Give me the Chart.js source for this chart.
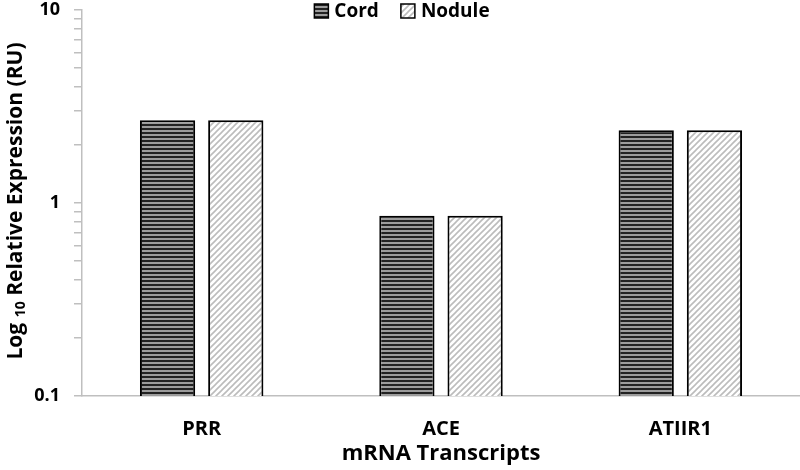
<!DOCTYPE html>
<html lang="en">
<head>
<meta charset="UTF-8">
<title>mRNA Transcripts</title>
<script src="https://cdn.jsdelivr.net/npm/chart.js"></script>
<style>
    html, body { margin: 0; padding: 0; background: #fff; }
    #wrap { width: 800px; height: 470px; }
</style>
</head>
<body>
<div id="wrap"><canvas id="chart"></canvas></div>
<script>
const transcripts = ['PRR', 'ACE', 'ATIIR1'];
const cordValues = [2.68, 0.86, 2.38];
const noduleValues = [2.68, 0.86, 2.38];
const yTickValues = [0.1, 0.2, 0.3, 0.4, 0.5, 0.6, 0.7, 0.8, 0.9,
                     1, 2, 3, 4, 5, 6, 7, 8, 9, 10];
const yTickLabels = ['0.1', '1', '10'];

const FONT = '"Open Sans", Lato, sans-serif';
const AXIS_GREY = '#bfbfbf';

// horizontal stripes for Cord
function stripePattern() {
    const c = document.createElement('canvas');
    c.width = 4; c.height = 4;
    const g = c.getContext('2d');
    g.fillStyle = '#9c9c9c';
    g.fillRect(0, 0, 4, 4);
    g.fillStyle = '#222';
    g.fillRect(0, 0, 4, 2);
    return g.createPattern(c, 'repeat');
}

// light diagonal hatch for Nodule
function hatchPattern() {
    const s = 6;
    const c = document.createElement('canvas');
    c.width = s; c.height = s;
    const g = c.getContext('2d');
    g.fillStyle = '#ffffff';
    g.fillRect(0, 0, s, s);
    g.strokeStyle = '#bcbcbc';
    g.lineWidth = 1.6;
    g.beginPath();
    g.moveTo(0, s); g.lineTo(s, 0);
    g.moveTo(-1, 1); g.lineTo(1, -1);
    g.moveTo(s - 1, s + 1); g.lineTo(s + 1, s - 1);
    g.stroke();
    return g.createPattern(c, 'repeat');
}

// y title with subscript 10
const yTitlePlugin = {
    id: 'yTitle',
    afterDraw(chart) {
        const ctx = chart.ctx;
        const parts = [
            {t: 'Log ', f: 'bold 21px ' + FONT, dy: 0},
            {t: '10', f: 'bold 14px ' + FONT, dy: 5},
            {t: ' Relative Expression (RU)', f: 'bold 21px ' + FONT, dy: 0}
        ];
        ctx.save();
        let total = 0;
        parts.forEach(p => { ctx.font = p.f; p.w = ctx.measureText(p.t).width; total += p.w; });
        ctx.translate(16, 201);
        ctx.rotate(-Math.PI / 2);
        ctx.fillStyle = '#000';
        ctx.textBaseline = 'middle';
        ctx.textAlign = 'left';
        let x = -total / 2;
        parts.forEach(p => {
            ctx.font = p.f;
            ctx.fillText(p.t, x, p.dy);
            x += p.w;
        });
        ctx.restore();
    }
};

// legend drawn over the top of the plot
const topLegendPlugin = {
    id: 'topLegend',
    afterDraw(chart) {
        const ctx = chart.ctx;
        const box = 14, gap = 6, itemGap = 22, cy = 11;
        ctx.save();
        ctx.font = 'bold 19px ' + FONT;
        const items = chart.data.datasets.map(ds => ({
            ds, w: box + gap + ctx.measureText(ds.label).width
        }));
        let total = items.reduce((a, it) => a + it.w, 0) + itemGap * (items.length - 1);
        let x = 402 - total / 2;
        items.forEach(it => {
            ctx.fillStyle = it.ds.backgroundColor;
            ctx.fillRect(x, cy - box / 2, box, box);
            ctx.lineWidth = 1.5;
            ctx.strokeStyle = '#000';
            ctx.strokeRect(x, cy - box / 2, box, box);
            ctx.fillStyle = '#000';
            ctx.textBaseline = 'middle';
            ctx.textAlign = 'left';
            ctx.fillText(it.ds.label, x + box + gap, cy + 1);
            x += it.w + itemGap;
        });
        ctx.restore();
    }
};

new Chart(document.getElementById('chart'), {
    type: 'bar',
    data: {
        labels: transcripts,
        datasets: [
            {
                label: 'Cord',
                data: cordValues,
                backgroundColor: stripePattern(),
                borderColor: '#000',
                borderWidth: 2
            },
            {
                label: 'Nodule',
                data: noduleValues,
                backgroundColor: hatchPattern(),
                borderColor: '#000',
                borderWidth: 2
            }
        ]
    },
    options: {
        responsive: true,
        maintainAspectRatio: false,
        animation: false,
        layout: { padding: { top: 10, right: 0, bottom: 0, left: 0 } },
        categoryPercentage: 0.57,
        barPercentage: 0.81,
        plugins: {
            legend: { display: false },
            tooltip: { enabled: false }
        },
        scales: {
            x: {
                afterFit: s => { s.height = 74; },
                grid: { display: false },
                border: { display: true, color: AXIS_GREY, width: 1.5 },
                ticks: {
                    color: '#000',
                    font: { family: FONT, size: 20, weight: 'bold' },
                    padding: 13
                },
                title: {
                    display: true,
                    text: 'mRNA Transcripts',
                    color: '#000',
                    font: { family: FONT, size: 22, weight: 'bold' },
                    padding: { top: 0, bottom: 3 }
                }
            },
            y: {
                type: 'logarithmic',
                min: 0.1,
                max: 10,
                afterFit: s => {
                    s.width = 82;
                    s.paddingTop = 0;
                    s.paddingBottom = 0;
                },
                afterBuildTicks: s => { s.ticks = yTickValues.map(v => ({ value: v })); },
                grid: {
                    display: true,
                    drawOnChartArea: false,
                    drawTicks: true,
                    tickLength: 8,
                    color: AXIS_GREY,
                    lineWidth: 1.5
                },
                border: { display: true, color: AXIS_GREY, width: 1.5 },
                ticks: {
                    autoSkip: false,
                    color: '#000',
                    font: { family: FONT, size: 18, weight: 'bold' },
                    padding: 14,
                    callback: v => {
                        const s = String(v);
                        return yTickLabels.includes(s) ? s : '';
                    }
                }
            }
        }
    },
    plugins: [yTitlePlugin, topLegendPlugin]
});
</script>
</body>
</html>
